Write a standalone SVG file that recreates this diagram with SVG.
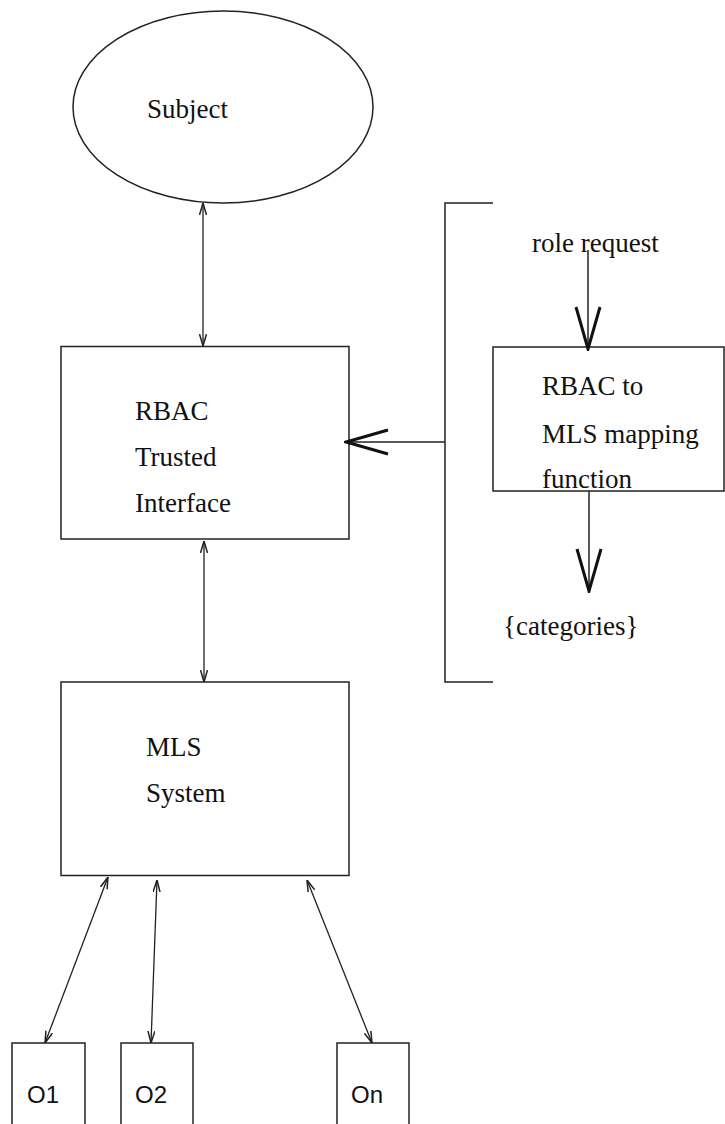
<svg xmlns="http://www.w3.org/2000/svg" width="725" height="1124" viewBox="0 0 725 1124">
<style>
.s{fill:none;stroke:#222;stroke-width:1.5}
.t{font-family:"Liberation Serif",serif;font-size:27px;fill:#111}
.o{font-family:"Liberation Sans",sans-serif;font-size:24px;fill:#111}
.c{fill:none;stroke:#222;stroke-width:1.3}
</style>
<defs>
<marker id="sm" viewBox="0 0 12 8" refX="12" refY="4" markerWidth="12" markerHeight="8" markerUnits="userSpaceOnUse" orient="auto-start-reverse">
<path d="M0,0.5 L12,4 L0,7.5" fill="none" stroke="#222" stroke-width="1.5"/>
</marker>
<marker id="big" viewBox="-2 -2 46 30" refX="42" refY="13" markerWidth="46" markerHeight="30" markerUnits="userSpaceOnUse" orient="auto">
<path d="M0,1 L42,13 L0,25" fill="none" stroke="#111" stroke-width="3"/>
</marker>
</defs>
<rect width="725" height="1124" fill="#fff"/>
<g id="subject">
<ellipse class="s" cx="223" cy="107" rx="150" ry="96"/>
<text class="t" x="147" y="118">Subject</text>
</g>
<g id="rbac-interface">
<rect class="s" x="61" y="346.5" width="288" height="192.5"/>
<text class="t" x="135" y="420">RBAC</text>
<text class="t" x="135" y="466">Trusted</text>
<text class="t" x="135" y="512">Interface</text>
</g>
<g id="mls-system">
<rect class="s" x="61" y="682" width="288" height="193.5"/>
<text class="t" x="146" y="756">MLS</text>
<text class="t" x="146" y="802">System</text>
</g>
<g id="mapping">
<rect class="s" x="493" y="347" width="231" height="144"/>
<text class="t" x="542" y="395">RBAC to</text>
<text class="t" x="542" y="443">MLS mapping</text>
<text class="t" x="542" y="488">function</text>
</g>
<g id="role-request">
<text class="t" x="532" y="252">role request</text>
</g>
<g id="categories">
<text class="t" x="503" y="635">{categories}</text>
</g>
<g id="bracket">
<path class="s" d="M493,203 H445 V682 H493"/>
</g>
<g id="o1">
<rect class="s" x="12" y="1043" width="73" height="90"/>
<text class="o" x="27" y="1103">O1</text>
</g>
<g id="o2">
<rect class="s" x="121" y="1043" width="72" height="90"/>
<text class="o" x="135" y="1103">O2</text>
</g>
<g id="on">
<rect class="s" x="337" y="1043" width="72" height="90"/>
<text class="o" x="351" y="1103">On</text>
</g>
<g id="connectors">
<line class="c" x1="203" y1="203" x2="203" y2="346" marker-start="url(#sm)" marker-end="url(#sm)"/>
<line class="c" x1="204" y1="541" x2="204" y2="682" marker-start="url(#sm)" marker-end="url(#sm)"/>
<line class="c" x1="108" y1="877" x2="45" y2="1043" marker-start="url(#sm)" marker-end="url(#sm)"/>
<line class="c" x1="157" y1="880" x2="151" y2="1043" marker-start="url(#sm)" marker-end="url(#sm)"/>
<line class="c" x1="307" y1="880" x2="372" y2="1043" marker-start="url(#sm)" marker-end="url(#sm)"/>
<line class="s" x1="445" y1="442" x2="346" y2="442" marker-end="url(#big)"/>
<line class="s" x1="588" y1="250" x2="588" y2="349" marker-end="url(#big)"/>
<line class="s" x1="589" y1="491" x2="589" y2="591" marker-end="url(#big)"/>
</g>
</svg>
